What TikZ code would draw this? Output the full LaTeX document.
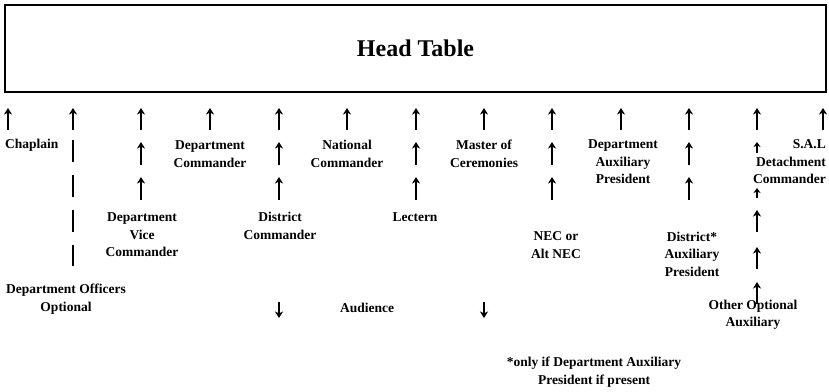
\documentclass[tikz,border=0pt]{standalone}
\usepackage{fontspec}
\setmainfont{Liberation Serif}
\usetikzlibrary{arrows.meta}
\begin{document}
\begin{tikzpicture}[x=1pt, y=-1pt,
  lbl/.style={font=\bfseries\fontsize{13.5}{17.5}\selectfont, align=center, inner sep=0pt},
  uparrow/.style={line width=1.9pt, -{Stealth[length=6.5pt,width=8pt,inset=2pt]}},
  smallarrow/.style={line width=1.9pt, -{Stealth[length=5pt,width=7pt,inset=1.5pt]}},
  dashline/.style={line width=1.9pt, dash pattern=on 22pt off 13pt}
]
\useasboundingbox (0,0) rectangle (829,391);

% head table
\node[draw, line width=1.6pt, minimum width=821pt, minimum height=87pt, inner sep=0pt,
      font=\bfseries\fontsize{24}{28}\selectfont] (table) at (415.5,48.5) {Head Table};

% seat labels
\node[lbl, anchor=west] (chaplain) at (5,145) {Chaplain};
\node[lbl] (deptcmdr) at (210,154) {Department\\Commander};
\node[lbl] (natcmdr) at (347,154) {National\\Commander};
\node[lbl] (moc) at (484,154) {Master of\\Ceremonies};
\node[lbl] (deptaux) at (623,162) {Department\\Auxiliary\\President};
\node[lbl, align=right, anchor=east] (sal) at (826,162) {S.A.L\\Detachment\\Commander};
\node[lbl] (vicecmdr) at (142,235) {Department\\Vice\\Commander};
\node[lbl] (distcmdr) at (280,226) {District\\Commander};
\node[lbl] (lectern) at (415,217) {Lectern};
\node[lbl] (nec) at (556,245) {NEC or\\Alt NEC};
\node[lbl] (distaux) at (692,254) {District*\\Auxiliary\\President};
\node[lbl] (officers) at (66,299) {Department Officers\\Optional};
\node[lbl] (audience) at (367,308) {Audience};
\node[lbl] (otheraux) at (753,315) {Other Optional\\Auxiliary};
\node[lbl] (note) at (594,372) {*only if Department Auxiliary\\President if present};

% first row of arrows toward the head table
\foreach \x in {8,73,141,210,279,347,416,484,552,621,689,757,823}
  \draw[uparrow] (\x,130) -- (\x,108);

% second and third rows
\foreach \x in {141,279,416,552,689} {
  \draw[uparrow] (\x,165) -- (\x,142);
  \draw[uparrow] (\x,200) -- (\x,177);
}

% optional officers column
\draw[dashline] (73,140) -- (73,266);

% optional auxiliary column
\draw[smallarrow] (757,153) -- (757,142);
\draw[smallarrow] (757,198) -- (757,188);
\foreach \y in {210,247,282}
  \draw[uparrow] (757,\y+22) -- (757,\y);

% audience arrows
\draw[uparrow] (279,302) -- (279,318);
\draw[uparrow] (484,302) -- (484,318);
\end{tikzpicture}
\end{document}
